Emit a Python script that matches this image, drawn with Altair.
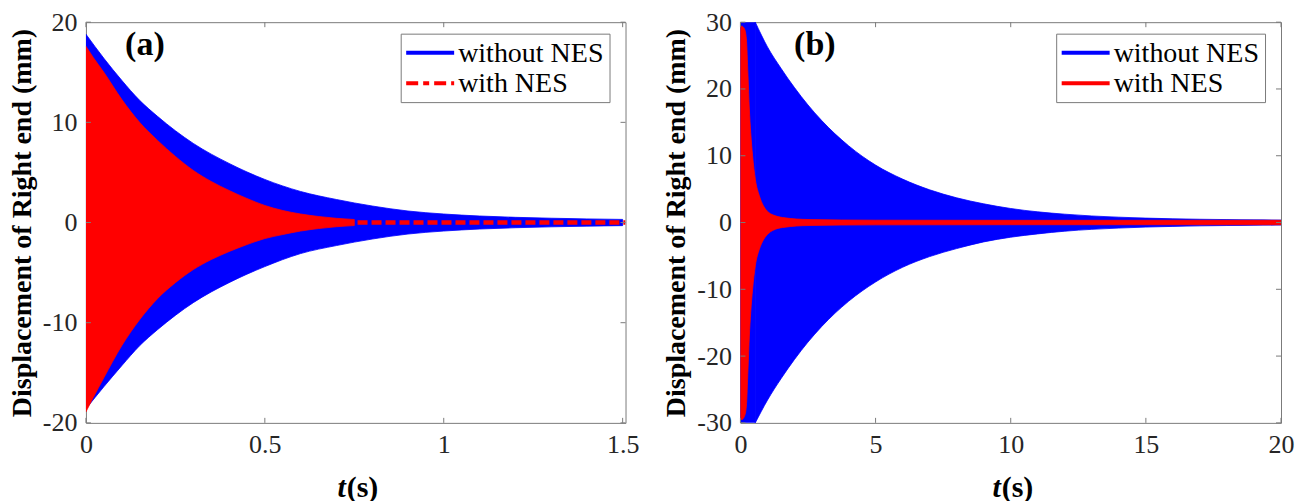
import altair as alt
import pandas as pd

# ---------------- panel (a): 0–1.5 s ----------------
ta_without = [0, 0.05, 0.1, 0.15, 0.2, 0.3, 0.4, 0.5, 0.6, 0.7, 0.8, 0.9, 1.0, 1.1, 1.2, 1.3, 1.4, 1.5]
ua_without = [18.8, 16.4, 14.2, 12.2, 10.6, 7.9, 5.9, 4.3, 3.1, 2.3, 1.65, 1.15, 0.85, 0.65, 0.52, 0.43, 0.36, 0.31]
la_without = [-18.6, -16.4, -14.3, -12.3, -10.7, -8.0, -6.0, -4.4, -3.1, -2.3, -1.65, -1.15, -0.85, -0.65, -0.52, -0.43, -0.36, -0.31]

ta_with = [0, 0.02, 0.05, 0.1, 0.15, 0.2, 0.25, 0.3, 0.35, 0.4, 0.45, 0.5, 0.55, 0.6, 0.65, 0.7, 0.75]
ua_with = [17.6, 16.5, 15.0, 12.3, 10.0, 8.2, 6.6, 5.2, 4.1, 3.2, 2.4, 1.7, 1.2, 0.85, 0.6, 0.42, 0.3]
la_with = [-18.9, -17.5, -15.5, -12.3, -9.7, -7.6, -6.0, -4.7, -3.7, -2.9, -2.2, -1.6, -1.2, -0.85, -0.6, -0.42, -0.3]

# residual "with NES" response after the transient (dash-dot trace)
ta_tail = [0.72, 1.508]
va_tail = [0.0, 0.0]

xa_ticks = [0, 0.5, 1, 1.5]
ya_ticks = [-20, -10, 0, 10, 20]

# ---------------- panel (b): 0–20 s ----------------
# the response saturates the ±30 mm axis limits up to about 0.55 s
tb_sat = [0, 0.55]
ub_sat = [30, 30]
lb_sat = [-30, -30]

tb_without = [0.55, 1, 1.5, 2, 2.5, 3, 4, 5, 6, 7, 8, 9, 10, 11, 12, 13, 14, 15, 16, 17, 18, 19, 20]
ub_without = [30, 26.3, 23.1, 20.2, 17.6, 15.3, 11.5, 8.6, 6.5, 4.9, 3.7, 2.8, 2.1, 1.6, 1.25, 0.98, 0.8,
              0.66, 0.56, 0.49, 0.44, 0.4, 0.37]
lb_without = [-30, -26.6, -23.4, -20.5, -17.9, -15.6, -11.8, -8.9, -6.7, -5.1, -3.9, -2.9, -2.2, -1.7,
              -1.3, -1.02, -0.83, -0.68, -0.58, -0.5, -0.45, -0.41, -0.38]

tb_with = [0, 0.05, 0.15, 0.22, 0.28, 0.33, 0.38, 0.45, 0.55, 0.7, 0.85, 1.05, 1.3, 1.65, 2.5, 5, 10, 15, 20]
ub_with = [29.4, 29.4, 29.0, 27.5, 22.0, 17.0, 13.5, 10.0, 6.5, 4.0, 2.5, 1.5, 1.0, 0.7, 0.45, 0.35, 0.33, 0.33, 0.33]
lb_with = [-29.5, -29.5, -29.0, -27.5, -22.0, -17.0, -13.5, -10.0, -6.5, -4.0, -2.6, -1.6, -1.0, -0.7, -0.45, -0.35,
           -0.33, -0.33, -0.33]

xb_ticks = [0, 5, 10, 15, 20]
yb_ticks = [-30, -20, -10, 0, 10, 20, 30]

series_names = ["without NES", "with NES"]

# ---------------- styling ----------------
FONT = "Liberation Serif"
BLUE = "#0000ff"
RED = "#ff0000"
FRAME = "#7a7a7a"
H = 401
TICK_LEN = 5


def band(*segments):
    """Envelope table; each (t, hi, lo) segment is drawn as its own area piece."""
    frames = []
    for i, (t, hi, lo) in enumerate(segments):
        frames.append(pd.DataFrame({"t": t, "hi": hi, "lo": lo, "seg": i}))
    return pd.concat(frames, ignore_index=True)


def one_row():
    return pd.DataFrame({"k": [0]})


def panel(width, xdom, ydom, xticks, yticks, blue_df, red_df, label, label_x,
          red_dash=None, tail_df=None, legend_shift=0.0):
    xax = alt.Axis(values=xticks, title=None, labelExpr="'' + datum.value", labelFlush=False)
    yax = alt.Axis(values=yticks, title="Displacement of Right end (mm)", labelExpr="'' + datum.value",
                   labelFlush=False)
    xs = alt.Scale(domain=xdom, nice=False, zero=False)
    ys = alt.Scale(domain=ydom, nice=False, zero=False)

    def X(f):
        return alt.X(f, type="quantitative", scale=xs, axis=xax)

    def Y(f):
        return alt.Y(f, type="quantitative", scale=ys, axis=yax)

    layers = []
    layers.append(
        alt.Chart(blue_df).mark_area(color=BLUE, stroke=BLUE, strokeWidth=0.8,
                                     interpolate="monotone", clip=True, opacity=1)
        .encode(x=X("t"), y=Y("hi"), y2="lo", detail="seg:N")
    )
    layers.append(
        alt.Chart(red_df).mark_area(color=RED, stroke=RED, strokeWidth=0.8,
                                    interpolate="monotone", clip=True, opacity=1)
        .encode(x=X("t"), y=Y("hi"), y2="lo", detail="seg:N")
    )
    if tail_df is not None:
        layers.append(
            alt.Chart(tail_df).mark_line(color=RED, strokeWidth=4.5, strokeDash=[10, 4], clip=True)
            .encode(x=X("t"), y=Y("v"))
        )

    # inward ticks on all four sides of the box
    xt_df = pd.DataFrame({"tick": xticks})
    yt_df = pd.DataFrame({"tick": yticks})
    tick_style = dict(color=FRAME, strokeWidth=1)
    layers.append(alt.Chart(xt_df).mark_rule(**tick_style).encode(
        x=X("tick"), y=alt.value(H), y2=alt.value(H - TICK_LEN)))
    layers.append(alt.Chart(xt_df).mark_rule(**tick_style).encode(
        x=X("tick"), y=alt.value(0), y2=alt.value(TICK_LEN)))
    layers.append(alt.Chart(yt_df).mark_rule(**tick_style).encode(
        y=Y("tick"), x=alt.value(0), x2=alt.value(TICK_LEN)))
    layers.append(alt.Chart(yt_df).mark_rule(**tick_style).encode(
        y=Y("tick"), x=alt.value(width), x2=alt.value(width - TICK_LEN)))

    # panel tag
    layers.append(alt.Chart(one_row()).mark_text(
        text=label, font=FONT, fontSize=34, fontWeight="bold", color="black",
        align="center", baseline="middle").encode(x=alt.value(label_x), y=alt.value(23)))

    # legend box
    lx0 = 315.5 + legend_shift
    layers.append(alt.Chart(one_row()).mark_rect(fill="white", stroke=FRAME, strokeWidth=1).encode(
        x=alt.value(lx0), x2=alt.value(lx0 + 209), y=alt.value(12), y2=alt.value(80.5)))
    layers.append(alt.Chart(one_row()).mark_rule(color=BLUE, strokeWidth=4).encode(
        x=alt.value(lx0 + 5), x2=alt.value(lx0 + 53), y=alt.value(30.5)))
    red_rule = dict(color=RED, strokeWidth=4)
    if red_dash is not None:
        red_rule["strokeDash"] = red_dash
    layers.append(alt.Chart(one_row()).mark_rule(**red_rule).encode(
        x=alt.value(lx0 + 5), x2=alt.value(lx0 + 53), y=alt.value(61)))
    for name, yy in zip(series_names, [30.5, 61]):
        layers.append(alt.Chart(one_row()).mark_text(
            text=name, font=FONT, fontSize=28, color="black", align="left", baseline="middle").encode(
            x=alt.value(lx0 + 57), y=alt.value(yy + 1)))

    # x-axis title: italic t followed by (s)
    cx = width / 2.0 - 10
    layers.append(alt.Chart(one_row()).mark_text(
        text="t", font=FONT, fontSize=30, fontWeight="bold", fontStyle="italic", color="black",
        align="right", baseline="middle").encode(x=alt.value(cx), y=alt.value(H + 65)))
    layers.append(alt.Chart(one_row()).mark_text(
        text="(s)", font=FONT, fontSize=30, fontWeight="bold", color="black",
        align="left", baseline="middle").encode(x=alt.value(cx + 1), y=alt.value(H + 65)))

    return alt.layer(*layers).properties(width=width, height=H)


pa = panel(
    540, [0, 1.508], [-20, 20], xa_ticks, ya_ticks,
    band((ta_without, ua_without, la_without)),
    band((ta_with, ua_with, la_with)),
    "(a)", 59, red_dash=[12, 5, 6, 5],
    tail_df=pd.DataFrame({"t": ta_tail, "v": va_tail}),
)
pb = panel(
    541, [0, 20], [-30, 30], xb_ticks, yb_ticks,
    band((tb_sat, ub_sat, lb_sat), (tb_without, ub_without, lb_without)),
    band((tb_with, ub_with, lb_with)),
    "(b)", 74.5, legend_shift=1.0,
)

chart = (
    alt.hconcat(pa, pb, spacing=115, bounds="flush")
    .properties(padding={"left": 7, "top": 8, "right": 0, "bottom": 0}, background="white")
    .configure_view(stroke=FRAME, strokeWidth=1)
    .configure_axis(
        domain=False, ticks=False, tickSize=0, grid=False,
        labelFont=FONT, labelFontSize=26, labelColor="#262626", labelPadding=9,
        titleFont=FONT, titleFontSize=28, titleFontWeight="bold", titleColor="black", titlePadding=6,
    )
)

chart.save("out.html", embed_options={"renderer": "svg", "actions": False})
